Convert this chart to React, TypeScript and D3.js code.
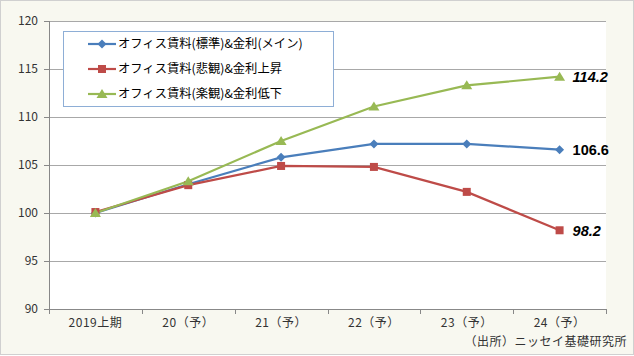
import React from "react";
import * as d3 from "d3";

const categories = ["2019上期", "20（予）", "21（予）", "22（予）", "23（予）", "24（予）"];
const seriesNames = ["オフィス賃料(標準)&金利(メイン)", "オフィス賃料(悲観)&金利上昇", "オフィス賃料(楽観)&金利低下"];
const standard = [100, 103.0, 105.8, 107.2, 107.2, 106.6];
const pessimistic = [100.1, 102.9, 104.9, 104.8, 102.2, 98.2];
const optimistic = [100, 103.3, 107.5, 111.1, 113.3, 114.2];
const yTicks = [90, 95, 100, 105, 110, 115, 120];
const endLabels = ["106.6", "98.2", "114.2"];

const W = 634, H = 356;
const L = 49, R = 606, T = 21, B = 309;
const colors = ["#4a7ebb", "#be4b48", "#98b954"];
const font = "'Noto Sans CJK JP', 'Noto Sans', sans-serif";

export default function App() {
  const x = d3.scaleBand<string>().domain(categories).range([L, R]);
  const y = d3.scaleLinear().domain([90, 120]).range([B, T]);
  const cx = (c: string) => (x(c) as number) + x.bandwidth() / 2;
  const all = [standard, pessimistic, optimistic];
  const line = d3.line<number>().x((_, i) => cx(categories[i])).y((v) => y(v));

  const marker = (k: number, px: number, py: number, key: string) => {
    if (k === 0) {
      const s = 4.5;
      return <path key={key} d={`M${px},${py - s}L${px + s},${py}L${px},${py + s}L${px - s},${py}Z`} fill={colors[0]} />;
    }
    if (k === 1) {
      return <rect key={key} x={px - 4} y={py - 4} width={8} height={8} fill={colors[1]} />;
    }
    return <path key={key} d={`M${px},${py - 5}L${px + 5.5},${py + 4}L${px - 5.5},${py + 4}Z`} fill={colors[2]} />;
  };

  const order = [0, 1, 2];
  return (
    <svg width={W} height={H} style={{ position: "absolute", left: 0, top: 0 }}>
      <rect x={0.5} y={0.5} width={W - 1} height={H - 2} fill="#f8f8f0" stroke="#d0d0d0" />
      <rect x={L} y={T} width={R - L} height={B - T} fill="#ffffff" />
      {yTicks.map((t) => (
        <g key={t}>
          {t !== 90 && <line x1={L} x2={R} y1={Math.round(y(t)) + 0.5} y2={Math.round(y(t)) + 0.5} stroke="#a8a8a8" />}
          <line x1={L - 5} x2={L} y1={Math.round(y(t)) + 0.5} y2={Math.round(y(t)) + 0.5} stroke="#888" />
          <text x={L - 11} y={y(t)} dy="0.35em" textAnchor="end" fontSize={12} fill="#333" fontFamily={font}>{t}</text>
        </g>
      ))}
      <line x1={L + 0.5} x2={L + 0.5} y1={T} y2={B} stroke="#888" />
      <line x1={L} x2={R} y1={B + 0.5} y2={B + 0.5} stroke="#888" />
      {categories.map((c, i) => (
        <g key={c}>
          <line x1={Math.round((x(c) as number) + x.bandwidth()) + 0.5} x2={Math.round((x(c) as number) + x.bandwidth()) + 0.5} y1={B} y2={B + 5} stroke="#888" />
          {i === 0 && <line x1={L + 0.5} x2={L + 0.5} y1={B} y2={B + 5} stroke="#888" />}
          <text x={cx(c)} y={B + 14} dy="0.35em" textAnchor="middle" fontSize={12} letterSpacing={0.5} fill="#333" fontFamily={font}>{c}</text>
        </g>
      ))}
      {order.map((k) => (
        <path key={"l" + k} d={line(all[k]) || ""} fill="none" stroke={colors[k]} strokeWidth={2.2} />
      ))}
      {order.map((k) => all[k].map((v, i) => marker(k, cx(categories[i]), y(v), `m${k}-${i}`)))}
      {order.map((k) => {
        const v = all[k][all[k].length - 1];
        return (
          <text key={"e" + k} x={cx(categories[5]) + 13} y={y(v)} dy="0.36em" fontSize={14.5} fontWeight="bold"
            fontStyle={k === 0 ? "normal" : "italic"} fill="#000" fontFamily="'Liberation Sans', Arial, sans-serif">{endLabels[k]}</text>
        );
      })}
      <rect x={63.5} y={31.5} width={270} height={75} fill="#ffffff" stroke="#8eaed6" />
      {seriesNames.map((n, k) => {
        const ly = 44 + k * 25;
        return (
          <g key={n}>
            <line x1={88} x2={116} y1={ly} y2={ly} stroke={colors[k]} strokeWidth={2.2} />
            {marker(k, 102, ly, "lg" + k)}
            <text x={118} y={ly} dy="0.35em" fontSize={12.3} fill="#000" fontFamily={font}>{n}</text>
          </g>
        );
      })}
      <text x={627} y={342} dy="0.35em" textAnchor="end" fontSize={12} letterSpacing={0.5} fill="#333" fontFamily={font}>（出所）ニッセイ基礎研究所</text>
    </svg>
  );
}
